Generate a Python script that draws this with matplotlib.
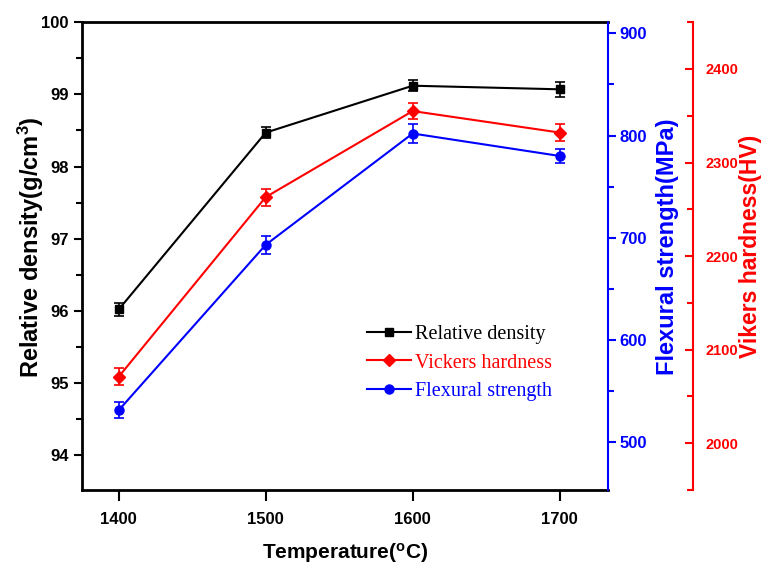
import matplotlib
matplotlib.use("Agg")
import matplotlib.pyplot as plt
from matplotlib.ticker import MultipleLocator

plt.rcParams['font.family'] = 'Liberation Sans'
plt.rcParams['font.weight'] = 'bold'
plt.rcParams['axes.labelweight'] = 'bold'
plt.rcParams['mathtext.default'] = 'regular'

# sintering temperature vs properties
temperature = [1400, 1500, 1600, 1700]
density = [96.02, 98.47, 99.12, 99.07]
density_err = [0.09, 0.08, 0.08, 0.1]
hardness = [2071, 2263, 2355, 2332]
hardness_err = [9, 9, 9, 9]
strength = [531, 693, 802, 780]
strength_err = [8, 9, 9, 7]

fig = plt.figure(figsize=(7.66, 5.69), dpi=100)
ax = fig.add_axes([0.107, 0.139, 0.687, 0.822])
ax2 = ax.twinx()
ax3 = ax.twinx()
ax3.spines['right'].set_position(('axes', 1.162))

eb1 = ax.errorbar(temperature, density, yerr=density_err, color='black', marker='s',
                  markersize=6, linewidth=1.5, elinewidth=1.2, capsize=3.5, capthick=1.2)
eb2 = ax3.errorbar(temperature, hardness, yerr=hardness_err, color='red', marker='D',
                   markersize=6, linewidth=1.5, elinewidth=1.2, capsize=3.5, capthick=1.2)
eb3 = ax2.errorbar(temperature, strength, yerr=strength_err, color='blue', marker='o',
                   markersize=6.5, linewidth=1.5, elinewidth=1.2, capsize=3.5, capthick=1.2)

ax.set_xlim(1375, 1733)
ax.set_xticks(temperature)
ax.set_ylim(93.52, 100)
ax.yaxis.set_major_locator(MultipleLocator(1))
ax.yaxis.set_minor_locator(MultipleLocator(0.5))
ax2.set_ylim(453, 911)
ax2.yaxis.set_major_locator(MultipleLocator(100))
ax2.yaxis.set_minor_locator(MultipleLocator(50))
ax3.set_ylim(1950, 2450)
ax3.yaxis.set_major_locator(MultipleLocator(100))
ax3.yaxis.set_minor_locator(MultipleLocator(50))

# spines
for s in ['left', 'top', 'bottom']:
    ax.spines[s].set_linewidth(2)
ax.spines['right'].set_visible(False)
for a in [ax2, ax3]:
    for s in ['left', 'top', 'bottom']:
        a.spines[s].set_visible(False)
ax2.spines['right'].set_color('blue')
ax2.spines['right'].set_linewidth(1.5)
ax3.spines['right'].set_color('red')
ax3.spines['right'].set_linewidth(1.5)

ax.tick_params(axis='both', which='major', direction='out', length=6, width=1.5, labelsize=12)
ax.tick_params(axis='x', which='major', length=8, pad=8)
ax.tick_params(axis='y', which='minor', direction='out', length=4, width=1.5)
ax.tick_params(axis='x', which='minor', bottom=False)
ax2.tick_params(axis='y', which='major', direction='out', length=6, width=1.5,
                colors='blue', labelsize=12, pad=2)
ax2.tick_params(axis='y', which='minor', direction='out', length=4, width=1.5, colors='blue')
ax3.tick_params(axis='y', which='major', direction='in', length=6, width=1.5,
                colors='red', labelsize=10.5, pad=9)
ax3.tick_params(axis='y', which='minor', direction='in', length=4, width=1.5, colors='red')

ax.set_xlabel('Temperature($^{o}$C)', fontsize=15)
ax.set_ylabel('Relative density(g/cm$^{3}$)', fontsize=17)
ax2.set_ylabel('Flexural strength(MPa)', fontsize=17, color='blue')
ax3.set_ylabel('Vikers hardness(HV)', fontsize=16.5, color='red')
ax.xaxis.set_label_coords(0.5, -0.11)
ax.yaxis.set_label_coords(-0.068, 0.52)
ax2.yaxis.set_label_coords(1.091, 0.52)
ax3.yaxis.set_label_coords(1.248, 0.52)

leg = ax3.legend([eb1[0], eb2[0], eb3[0]],
                 ['Relative density', 'Vickers hardness', 'Flexural strength'],
                 loc='upper left', bbox_to_anchor=(0.541, 0.352), frameon=False,
                 prop={'family': 'Liberation Serif', 'size': 14.5, 'weight': 'normal'},
                 handlelength=2.2, handletextpad=0.2, labelspacing=0.45,
                 borderpad=0, borderaxespad=0, labelcolor=['black', 'red', 'blue'])

fig.savefig('out.png', dpi=100)
